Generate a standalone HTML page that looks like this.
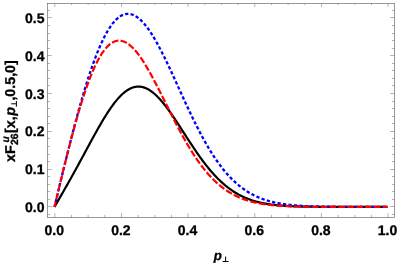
<!DOCTYPE html>
<html><head><meta charset="utf-8"><style>
html,body{margin:0;padding:0;background:#fff;}
svg{display:block;will-change:transform}
text{font-family:"Liberation Sans",sans-serif;font-weight:bold;font-size:14px;fill:#000;stroke:#000;stroke-width:0.3px;text-rendering:geometricPrecision}
</style></head><body>
<svg width="398" height="264" viewBox="0 0 398 264">
<rect width="398" height="264" fill="#fff"/>
<defs><clipPath id="c"><rect x="47.5" y="3.5" width="347.0" height="214.0"/></clipPath></defs>
<g clip-path="url(#c)" fill="none" stroke-linejoin="round">
<path d="M54.50,206.90 L55.33,205.46 L56.16,204.02 L57.00,202.58 L57.83,201.14 L58.66,199.70 L59.49,198.25 L60.33,196.81 L61.16,195.36 L61.99,193.91 L62.83,192.46 L63.66,191.00 L64.49,189.54 L65.32,188.08 L66.16,186.62 L66.99,185.15 L67.82,183.67 L68.65,182.19 L69.48,180.71 L70.32,179.23 L71.15,177.74 L71.98,176.24 L72.81,174.74 L73.65,173.24 L74.48,171.73 L75.31,170.22 L76.14,168.70 L76.98,167.19 L77.81,165.66 L78.64,164.14 L79.47,162.61 L80.31,161.07 L81.14,159.54 L81.97,158.00 L82.81,156.46 L83.64,154.92 L84.47,153.38 L85.30,151.83 L86.14,150.29 L86.97,148.75 L87.80,147.20 L88.63,145.66 L89.47,144.13 L90.30,142.59 L91.13,141.06 L91.96,139.53 L92.80,138.01 L93.63,136.49 L94.46,134.98 L95.29,133.48 L96.12,131.98 L96.96,130.50 L97.79,129.02 L98.62,127.55 L99.46,126.10 L100.29,124.66 L101.12,123.23 L101.95,121.81 L102.78,120.41 L103.62,119.03 L104.45,117.66 L105.28,116.31 L106.12,114.99 L106.95,113.68 L107.78,112.39 L108.61,111.12 L109.44,109.87 L110.28,108.65 L111.11,107.46 L111.94,106.29 L112.78,105.14 L113.61,104.02 L114.44,102.94 L115.27,101.87 L116.10,100.84 L116.94,99.84 L117.77,98.88 L118.60,97.94 L119.44,97.04 L120.27,96.17 L121.10,95.33 L121.93,94.53 L122.77,93.76 L123.60,93.03 L124.43,92.34 L125.26,91.69 L126.09,91.07 L126.93,90.49 L127.76,89.95 L128.59,89.45 L129.43,88.99 L130.26,88.57 L131.09,88.19 L131.92,87.85 L132.75,87.55 L133.59,87.29 L134.42,87.07 L135.25,86.89 L136.08,86.76 L136.92,86.66 L137.75,86.61 L138.58,86.59 L139.42,86.62 L140.25,86.69 L141.08,86.80 L141.91,86.95 L142.75,87.14 L143.58,87.37 L144.41,87.64 L145.24,87.95 L146.07,88.29 L146.91,88.68 L147.74,89.10 L148.57,89.56 L149.41,90.06 L150.24,90.59 L151.07,91.16 L151.90,91.76 L152.74,92.40 L153.57,93.07 L154.40,93.78 L155.23,94.51 L156.06,95.28 L156.90,96.08 L157.73,96.91 L158.56,97.76 L159.39,98.65 L160.23,99.56 L161.06,100.50 L161.89,101.46 L162.73,102.45 L163.56,103.47 L164.39,104.50 L165.22,105.56 L166.06,106.63 L166.89,107.73 L167.72,108.85 L168.55,109.98 L169.38,111.13 L170.22,112.30 L171.05,113.48 L171.88,114.68 L172.71,115.89 L173.55,117.11 L174.38,118.34 L175.21,119.58 L176.05,120.84 L176.88,122.10 L177.71,123.36 L178.54,124.64 L179.38,125.92 L180.21,127.20 L181.04,128.49 L181.87,129.78 L182.71,131.07 L183.54,132.36 L184.37,133.66 L185.20,134.95 L186.03,136.24 L186.87,137.53 L187.70,138.82 L188.53,140.10 L189.37,141.38 L190.20,142.65 L191.03,143.92 L191.86,145.18 L192.70,146.43 L193.53,147.68 L194.36,148.92 L195.19,150.14 L196.03,151.36 L196.86,152.57 L197.69,153.77 L198.52,154.96 L199.35,156.14 L200.19,157.30 L201.02,158.45 L201.85,159.59 L202.69,160.72 L203.52,161.83 L204.35,162.93 L205.18,164.01 L206.02,165.08 L206.85,166.14 L207.68,167.18 L208.51,168.20 L209.34,169.21 L210.18,170.21 L211.01,171.18 L211.84,172.15 L212.68,173.09 L213.51,174.02 L214.34,174.94 L215.17,175.83 L216.00,176.71 L216.84,177.58 L217.67,178.42 L218.50,179.26 L219.34,180.07 L220.17,180.87 L221.00,181.65 L221.83,182.42 L222.66,183.16 L223.50,183.90 L224.33,184.61 L225.16,185.31 L226.00,186.00 L226.83,186.67 L227.66,187.32 L228.49,187.95 L229.33,188.58 L230.16,189.18 L230.99,189.77 L231.82,190.35 L232.66,190.91 L233.49,191.46 L234.32,191.99 L235.15,192.50 L235.99,193.01 L236.82,193.50 L237.65,193.97 L238.48,194.44 L239.32,194.89 L240.15,195.32 L240.98,195.75 L241.81,196.16 L242.65,196.56 L243.48,196.94 L244.31,197.32 L245.14,197.68 L245.98,198.04 L246.81,198.38 L247.64,198.71 L248.47,199.03 L249.30,199.34 L250.14,199.64 L250.97,199.92 L251.80,200.20 L252.63,200.47 L253.47,200.74 L254.30,200.99 L255.13,201.23 L255.97,201.47 L256.80,201.69 L257.63,201.91 L258.46,202.12 L259.29,202.32 L260.13,202.52 L260.96,202.71 L261.79,202.89 L262.62,203.06 L263.46,203.23 L264.29,203.39 L265.12,203.55 L265.96,203.70 L266.79,203.84 L267.62,203.98 L268.45,204.11 L269.28,204.24 L270.12,204.36 L270.95,204.48 L271.78,204.59 L272.62,204.70 L273.45,204.80 L274.28,204.90 L275.11,205.00 L275.95,205.09 L276.78,205.17 L277.61,205.26 L278.44,205.34 L279.27,205.41 L280.11,205.49 L280.94,205.56 L281.77,205.62 L282.61,205.69 L283.44,205.75 L284.27,205.80 L285.10,205.86 L285.94,205.91 L286.77,205.96 L287.60,206.01 L288.43,206.06 L289.26,206.10 L290.10,206.14 L290.93,206.18 L291.76,206.22 L292.60,206.26 L293.43,206.29 L294.26,206.32 L295.09,206.35 L295.92,206.38 L296.76,206.41 L297.59,206.44 L298.42,206.46 L299.25,206.49 L300.09,206.51 L300.92,206.53 L301.75,206.55 L302.59,206.57 L303.42,206.59 L304.25,206.61 L305.08,206.62 L305.91,206.64 L306.75,206.65 L307.58,206.67 L308.41,206.68 L309.25,206.69 L310.08,206.71 L310.91,206.72 L311.74,206.73 L312.57,206.74 L313.41,206.75 L314.24,206.76 L315.07,206.77 L315.91,206.77 L316.74,206.78 L317.57,206.79 L318.40,206.80 L319.24,206.80 L320.07,206.81 L320.90,206.81 L321.73,206.82 L322.56,206.82 L323.40,206.83 L324.23,206.83 L325.06,206.84 L325.90,206.84 L326.73,206.84 L327.56,206.85 L328.39,206.85 L329.23,206.85 L330.06,206.86 L330.89,206.86 L331.72,206.86 L332.56,206.87 L333.39,206.87 L334.22,206.87 L335.05,206.87 L335.88,206.87 L336.72,206.88 L337.55,206.88 L338.38,206.88 L339.21,206.88 L340.05,206.88 L340.88,206.88 L341.71,206.88 L342.55,206.88 L343.38,206.89 L344.21,206.89 L345.04,206.89 L345.88,206.89 L346.71,206.89 L347.54,206.89 L348.37,206.89 L349.20,206.89 L350.04,206.89 L350.87,206.89 L351.70,206.89 L352.54,206.89 L353.37,206.89 L354.20,206.89 L355.03,206.89 L355.87,206.90 L356.70,206.90 L357.53,206.90 L358.36,206.90 L359.19,206.90 L360.03,206.90 L360.86,206.90 L361.69,206.90 L362.53,206.90 L363.36,206.90 L364.19,206.90 L365.02,206.90 L365.86,206.90 L366.69,206.90 L367.52,206.90 L368.35,206.90 L369.19,206.90 L370.02,206.90 L370.85,206.90 L371.68,206.90 L372.52,206.90 L373.35,206.90 L374.18,206.90 L375.01,206.90 L375.84,206.90 L376.68,206.90 L377.51,206.90 L378.34,206.90 L379.18,206.90 L380.01,206.90 L380.84,206.90 L381.67,206.90 L382.50,206.90 L383.34,206.90 L384.17,206.90 L385.00,206.90 L385.83,206.90 L386.67,206.90 L387.50,206.90" stroke="#000" stroke-width="2.2"/>
<path d="M54.50,206.90 L55.33,203.42 L56.16,199.94 L57.00,196.47 L57.83,193.00 L58.66,189.53 L59.49,186.07 L60.33,182.61 L61.16,179.16 L61.99,175.73 L62.83,172.30 L63.66,168.88 L64.49,165.48 L65.32,162.08 L66.16,158.71 L66.99,155.35 L67.82,152.00 L68.65,148.68 L69.48,145.37 L70.32,142.08 L71.15,138.81 L71.98,135.57 L72.81,132.35 L73.65,129.15 L74.48,125.98 L75.31,122.84 L76.14,119.72 L76.98,116.63 L77.81,113.57 L78.64,110.55 L79.47,107.55 L80.31,104.58 L81.14,101.65 L81.97,98.76 L82.81,95.90 L83.64,93.07 L84.47,90.29 L85.30,87.54 L86.14,84.83 L86.97,82.16 L87.80,79.53 L88.63,76.94 L89.47,74.40 L90.30,71.90 L91.13,69.45 L91.96,67.03 L92.80,64.67 L93.63,62.35 L94.46,60.08 L95.29,57.86 L96.12,55.69 L96.96,53.57 L97.79,51.49 L98.62,49.47 L99.46,47.50 L100.29,45.58 L101.12,43.72 L101.95,41.91 L102.78,40.15 L103.62,38.44 L104.45,36.79 L105.28,35.20 L106.12,33.66 L106.95,32.18 L107.78,30.75 L108.61,29.38 L109.44,28.07 L110.28,26.82 L111.11,25.62 L111.94,24.48 L112.78,23.40 L113.61,22.38 L114.44,21.41 L115.27,20.50 L116.10,19.66 L116.94,18.87 L117.77,18.14 L118.60,17.46 L119.44,16.85 L120.27,16.29 L121.10,15.79 L121.93,15.35 L122.77,14.97 L123.60,14.65 L124.43,14.38 L125.26,14.17 L126.09,14.01 L126.93,13.92 L127.76,13.88 L128.59,13.89 L129.43,13.96 L130.26,14.08 L131.09,14.26 L131.92,14.50 L132.75,14.78 L133.59,15.12 L134.42,15.51 L135.25,15.95 L136.08,16.44 L136.92,16.98 L137.75,17.58 L138.58,18.22 L139.42,18.90 L140.25,19.64 L141.08,20.42 L141.91,21.25 L142.75,22.12 L143.58,23.03 L144.41,23.99 L145.24,24.99 L146.07,26.03 L146.91,27.11 L147.74,28.23 L148.57,29.39 L149.41,30.58 L150.24,31.81 L151.07,33.08 L151.90,34.38 L152.74,35.71 L153.57,37.07 L154.40,38.47 L155.23,39.90 L156.06,41.35 L156.90,42.83 L157.73,44.34 L158.56,45.88 L159.39,47.44 L160.23,49.02 L161.06,50.63 L161.89,52.25 L162.73,53.90 L163.56,55.56 L164.39,57.25 L165.22,58.95 L166.06,60.66 L166.89,62.40 L167.72,64.14 L168.55,65.90 L169.38,67.67 L170.22,69.45 L171.05,71.24 L171.88,73.04 L172.71,74.84 L173.55,76.65 L174.38,78.47 L175.21,80.29 L176.05,82.12 L176.88,83.95 L177.71,85.78 L178.54,87.61 L179.38,89.44 L180.21,91.27 L181.04,93.10 L181.87,94.92 L182.71,96.74 L183.54,98.56 L184.37,100.37 L185.20,102.18 L186.03,103.98 L186.87,105.77 L187.70,107.55 L188.53,109.33 L189.37,111.09 L190.20,112.85 L191.03,114.59 L191.86,116.33 L192.70,118.05 L193.53,119.76 L194.36,121.45 L195.19,123.13 L196.03,124.80 L196.86,126.45 L197.69,128.09 L198.52,129.71 L199.35,131.32 L200.19,132.91 L201.02,134.48 L201.85,136.03 L202.69,137.57 L203.52,139.09 L204.35,140.59 L205.18,142.07 L206.02,143.54 L206.85,144.98 L207.68,146.41 L208.51,147.82 L209.34,149.20 L210.18,150.57 L211.01,151.92 L211.84,153.24 L212.68,154.55 L213.51,155.84 L214.34,157.10 L215.17,158.35 L216.00,159.57 L216.84,160.78 L217.67,161.96 L218.50,163.13 L219.34,164.27 L220.17,165.39 L221.00,166.49 L221.83,167.57 L222.66,168.64 L223.50,169.68 L224.33,170.70 L225.16,171.70 L226.00,172.68 L226.83,173.64 L227.66,174.58 L228.49,175.50 L229.33,176.40 L230.16,177.28 L230.99,178.15 L231.82,178.99 L232.66,179.82 L233.49,180.62 L234.32,181.41 L235.15,182.18 L235.99,182.94 L236.82,183.67 L237.65,184.39 L238.48,185.09 L239.32,185.77 L240.15,186.44 L240.98,187.09 L241.81,187.72 L242.65,188.34 L243.48,188.94 L244.31,189.52 L245.14,190.09 L245.98,190.65 L246.81,191.19 L247.64,191.71 L248.47,192.22 L249.30,192.72 L250.14,193.20 L250.97,193.67 L251.80,194.13 L252.63,194.57 L253.47,195.00 L254.30,195.42 L255.13,195.83 L255.97,196.22 L256.80,196.60 L257.63,196.97 L258.46,197.33 L259.29,197.68 L260.13,198.02 L260.96,198.34 L261.79,198.66 L262.62,198.97 L263.46,199.27 L264.29,199.55 L265.12,199.83 L265.96,200.10 L266.79,200.36 L267.62,200.61 L268.45,200.86 L269.28,201.09 L270.12,201.32 L270.95,201.54 L271.78,201.75 L272.62,201.95 L273.45,202.15 L274.28,202.34 L275.11,202.53 L275.95,202.70 L276.78,202.87 L277.61,203.04 L278.44,203.20 L279.27,203.35 L280.11,203.50 L280.94,203.64 L281.77,203.78 L282.61,203.91 L283.44,204.04 L284.27,204.16 L285.10,204.28 L285.94,204.39 L286.77,204.50 L287.60,204.60 L288.43,204.70 L289.26,204.80 L290.10,204.89 L290.93,204.98 L291.76,205.07 L292.60,205.15 L293.43,205.23 L294.26,205.30 L295.09,205.37 L295.92,205.44 L296.76,205.51 L297.59,205.57 L298.42,205.64 L299.25,205.69 L300.09,205.75 L300.92,205.80 L301.75,205.86 L302.59,205.90 L303.42,205.95 L304.25,206.00 L305.08,206.04 L305.91,206.08 L306.75,206.12 L307.58,206.16 L308.41,206.19 L309.25,206.23 L310.08,206.26 L310.91,206.29 L311.74,206.32 L312.57,206.35 L313.41,206.38 L314.24,206.40 L315.07,206.43 L315.91,206.45 L316.74,206.48 L317.57,206.50 L318.40,206.52 L319.24,206.54 L320.07,206.56 L320.90,206.57 L321.73,206.59 L322.56,206.61 L323.40,206.62 L324.23,206.64 L325.06,206.65 L325.90,206.66 L326.73,206.68 L327.56,206.69 L328.39,206.70 L329.23,206.71 L330.06,206.72 L330.89,206.73 L331.72,206.74 L332.56,206.75 L333.39,206.76 L334.22,206.76 L335.05,206.77 L335.88,206.78 L336.72,206.79 L337.55,206.79 L338.38,206.80 L339.21,206.80 L340.05,206.81 L340.88,206.81 L341.71,206.82 L342.55,206.82 L343.38,206.83 L344.21,206.83 L345.04,206.84 L345.88,206.84 L346.71,206.84 L347.54,206.85 L348.37,206.85 L349.20,206.85 L350.04,206.86 L350.87,206.86 L351.70,206.86 L352.54,206.86 L353.37,206.86 L354.20,206.87 L355.03,206.87 L355.87,206.87 L356.70,206.87 L357.53,206.87 L358.36,206.88 L359.19,206.88 L360.03,206.88 L360.86,206.88 L361.69,206.88 L362.53,206.88 L363.36,206.88 L364.19,206.88 L365.02,206.89 L365.86,206.89 L366.69,206.89 L367.52,206.89 L368.35,206.89 L369.19,206.89 L370.02,206.89 L370.85,206.89 L371.68,206.89 L372.52,206.89 L373.35,206.89 L374.18,206.89 L375.01,206.89 L375.84,206.89 L376.68,206.89 L377.51,206.89 L378.34,206.89 L379.18,206.90 L380.01,206.90 L380.84,206.90 L381.67,206.90 L382.50,206.90 L383.34,206.90 L384.17,206.90 L385.00,206.90 L385.83,206.90 L386.67,206.90 L387.50,206.90" stroke="#0000ff" stroke-width="2.3" stroke-dasharray="3.3 2.2206" stroke-dashoffset="0.75"/>
<path d="M54.50,206.90 L55.33,203.40 L56.16,199.91 L57.00,196.41 L57.83,192.93 L58.66,189.44 L59.49,185.97 L60.33,182.51 L61.16,179.06 L61.99,175.62 L62.83,172.20 L63.66,168.79 L64.49,165.40 L65.32,162.03 L66.16,158.68 L66.99,155.36 L67.82,152.06 L68.65,148.78 L69.48,145.54 L70.32,142.32 L71.15,139.13 L71.98,135.98 L72.81,132.85 L73.65,129.76 L74.48,126.71 L75.31,123.70 L76.14,120.72 L76.98,117.78 L77.81,114.89 L78.64,112.04 L79.47,109.23 L80.31,106.47 L81.14,103.75 L81.97,101.08 L82.81,98.45 L83.64,95.88 L84.47,93.36 L85.30,90.89 L86.14,88.47 L86.97,86.10 L87.80,83.79 L88.63,81.54 L89.47,79.33 L90.30,77.19 L91.13,75.10 L91.96,73.07 L92.80,71.10 L93.63,69.19 L94.46,67.34 L95.29,65.55 L96.12,63.81 L96.96,62.14 L97.79,60.53 L98.62,58.99 L99.46,57.50 L100.29,56.08 L101.12,54.72 L101.95,53.42 L102.78,52.19 L103.62,51.02 L104.45,49.91 L105.28,48.87 L106.12,47.89 L106.95,46.97 L107.78,46.12 L108.61,45.33 L109.44,44.60 L110.28,43.93 L111.11,43.33 L111.94,42.78 L112.78,42.30 L113.61,41.89 L114.44,41.53 L115.27,41.23 L116.10,40.99 L116.94,40.82 L117.77,40.70 L118.60,40.64 L119.44,40.63 L120.27,40.69 L121.10,40.80 L121.93,40.97 L122.77,41.19 L123.60,41.46 L124.43,41.79 L125.26,42.18 L126.09,42.61 L126.93,43.10 L127.76,43.63 L128.59,44.22 L129.43,44.85 L130.26,45.53 L131.09,46.25 L131.92,47.02 L132.75,47.84 L133.59,48.70 L134.42,49.60 L135.25,50.54 L136.08,51.52 L136.92,52.54 L137.75,53.60 L138.58,54.70 L139.42,55.83 L140.25,56.99 L141.08,58.19 L141.91,59.42 L142.75,60.68 L143.58,61.97 L144.41,63.29 L145.24,64.64 L146.07,66.01 L146.91,67.41 L147.74,68.83 L148.57,70.28 L149.41,71.75 L150.24,73.23 L151.07,74.74 L151.90,76.27 L152.74,77.81 L153.57,79.37 L154.40,80.94 L155.23,82.52 L156.06,84.12 L156.90,85.73 L157.73,87.35 L158.56,88.99 L159.39,90.62 L160.23,92.27 L161.06,93.92 L161.89,95.58 L162.73,97.24 L163.56,98.90 L164.39,100.57 L165.22,102.24 L166.06,103.91 L166.89,105.57 L167.72,107.24 L168.55,108.91 L169.38,110.57 L170.22,112.22 L171.05,113.88 L171.88,115.52 L172.71,117.16 L173.55,118.80 L174.38,120.42 L175.21,122.04 L176.05,123.65 L176.88,125.24 L177.71,126.83 L178.54,128.41 L179.38,129.97 L180.21,131.52 L181.04,133.06 L181.87,134.59 L182.71,136.10 L183.54,137.60 L184.37,139.08 L185.20,140.55 L186.03,142.00 L186.87,143.44 L187.70,144.86 L188.53,146.26 L189.37,147.65 L190.20,149.02 L191.03,150.37 L191.86,151.70 L192.70,153.02 L193.53,154.32 L194.36,155.59 L195.19,156.85 L196.03,158.09 L196.86,159.32 L197.69,160.52 L198.52,161.70 L199.35,162.87 L200.19,164.01 L201.02,165.14 L201.85,166.24 L202.69,167.33 L203.52,168.39 L204.35,169.44 L205.18,170.47 L206.02,171.48 L206.85,172.47 L207.68,173.43 L208.51,174.38 L209.34,175.31 L210.18,176.23 L211.01,177.12 L211.84,177.99 L212.68,178.85 L213.51,179.68 L214.34,180.50 L215.17,181.30 L216.00,182.08 L216.84,182.84 L217.67,183.59 L218.50,184.32 L219.34,185.03 L220.17,185.72 L221.00,186.40 L221.83,187.06 L222.66,187.70 L223.50,188.33 L224.33,188.94 L225.16,189.53 L226.00,190.11 L226.83,190.67 L227.66,191.22 L228.49,191.76 L229.33,192.28 L230.16,192.78 L230.99,193.27 L231.82,193.75 L232.66,194.21 L233.49,194.66 L234.32,195.10 L235.15,195.52 L235.99,195.93 L236.82,196.33 L237.65,196.72 L238.48,197.09 L239.32,197.46 L240.15,197.81 L240.98,198.15 L241.81,198.48 L242.65,198.80 L243.48,199.11 L244.31,199.41 L245.14,199.70 L245.98,199.98 L246.81,200.25 L247.64,200.52 L248.47,200.77 L249.30,201.01 L250.14,201.25 L250.97,201.48 L251.80,201.70 L252.63,201.91 L253.47,202.11 L254.30,202.31 L255.13,202.50 L255.97,202.69 L256.80,202.86 L257.63,203.03 L258.46,203.20 L259.29,203.35 L260.13,203.51 L260.96,203.65 L261.79,203.79 L262.62,203.93 L263.46,204.06 L264.29,204.18 L265.12,204.30 L265.96,204.42 L266.79,204.53 L267.62,204.64 L268.45,204.74 L269.28,204.84 L270.12,204.93 L270.95,205.02 L271.78,205.11 L272.62,205.19 L273.45,205.27 L274.28,205.35 L275.11,205.42 L275.95,205.49 L276.78,205.56 L277.61,205.62 L278.44,205.68 L279.27,205.74 L280.11,205.80 L280.94,205.85 L281.77,205.90 L282.61,205.95 L283.44,206.00 L284.27,206.04 L285.10,206.09 L285.94,206.13 L286.77,206.17 L287.60,206.20 L288.43,206.24 L289.26,206.27 L290.10,206.30 L290.93,206.33 L291.76,206.36 L292.60,206.39 L293.43,206.42 L294.26,206.44 L295.09,206.47 L295.92,206.49 L296.76,206.51 L297.59,206.53 L298.42,206.55 L299.25,206.57 L300.09,206.59 L300.92,206.61 L301.75,206.62 L302.59,206.64 L303.42,206.65 L304.25,206.66 L305.08,206.68 L305.91,206.69 L306.75,206.70 L307.58,206.71 L308.41,206.72 L309.25,206.73 L310.08,206.74 L310.91,206.75 L311.74,206.76 L312.57,206.77 L313.41,206.78 L314.24,206.78 L315.07,206.79 L315.91,206.80 L316.74,206.80 L317.57,206.81 L318.40,206.81 L319.24,206.82 L320.07,206.82 L320.90,206.83 L321.73,206.83 L322.56,206.84 L323.40,206.84 L324.23,206.84 L325.06,206.85 L325.90,206.85 L326.73,206.85 L327.56,206.86 L328.39,206.86 L329.23,206.86 L330.06,206.86 L330.89,206.87 L331.72,206.87 L332.56,206.87 L333.39,206.87 L334.22,206.87 L335.05,206.88 L335.88,206.88 L336.72,206.88 L337.55,206.88 L338.38,206.88 L339.21,206.88 L340.05,206.88 L340.88,206.88 L341.71,206.89 L342.55,206.89 L343.38,206.89 L344.21,206.89 L345.04,206.89 L345.88,206.89 L346.71,206.89 L347.54,206.89 L348.37,206.89 L349.20,206.89 L350.04,206.89 L350.87,206.89 L351.70,206.89 L352.54,206.89 L353.37,206.89 L354.20,206.89 L355.03,206.90 L355.87,206.90 L356.70,206.90 L357.53,206.90 L358.36,206.90 L359.19,206.90 L360.03,206.90 L360.86,206.90 L361.69,206.90 L362.53,206.90 L363.36,206.90 L364.19,206.90 L365.02,206.90 L365.86,206.90 L366.69,206.90 L367.52,206.90 L368.35,206.90 L369.19,206.90 L370.02,206.90 L370.85,206.90 L371.68,206.90 L372.52,206.90 L373.35,206.90 L374.18,206.90 L375.01,206.90 L375.84,206.90 L376.68,206.90 L377.51,206.90 L378.34,206.90 L379.18,206.90 L380.01,206.90 L380.84,206.90 L381.67,206.90 L382.50,206.90 L383.34,206.90 L384.17,206.90 L385.00,206.90 L385.83,206.90 L386.67,206.90 L387.50,206.90" stroke="#ff0000" stroke-width="2.2" stroke-dasharray="6.662 2.2" stroke-dashoffset="1.19"/>
</g>
<rect x="47.5" y="3.5" width="347.0" height="214.0" fill="none" stroke="#666" stroke-width="0.66"/>
<path d="M54.80,217.5 v-4.4 M54.80,3.5 v3.4000000000000004 M71.47,217.5 v-2.6 M71.47,3.5 v1.6 M88.13,217.5 v-2.6 M88.13,3.5 v1.6 M104.80,217.5 v-2.6 M104.80,3.5 v1.6 M121.46,217.5 v-4.4 M121.46,3.5 v3.4000000000000004 M138.12,217.5 v-2.6 M138.12,3.5 v1.6 M154.79,217.5 v-2.6 M154.79,3.5 v1.6 M171.46,217.5 v-2.6 M171.46,3.5 v1.6 M188.12,217.5 v-4.4 M188.12,3.5 v3.4000000000000004 M204.79,217.5 v-2.6 M204.79,3.5 v1.6 M221.45,217.5 v-2.6 M221.45,3.5 v1.6 M238.12,217.5 v-2.6 M238.12,3.5 v1.6 M254.78,217.5 v-4.4 M254.78,3.5 v3.4000000000000004 M271.44,217.5 v-2.6 M271.44,3.5 v1.6 M288.11,217.5 v-2.6 M288.11,3.5 v1.6 M304.78,217.5 v-2.6 M304.78,3.5 v1.6 M321.44,217.5 v-4.4 M321.44,3.5 v3.4000000000000004 M338.11,217.5 v-2.6 M338.11,3.5 v1.6 M354.77,217.5 v-2.6 M354.77,3.5 v1.6 M371.44,217.5 v-2.6 M371.44,3.5 v1.6 M388.10,217.5 v-4.4 M388.10,3.5 v3.4000000000000004 M47.5,214.50 h2.6 M394.5,214.50 h-2.6 M47.5,206.50 h4.4 M394.5,206.50 h-4.4 M47.5,199.50 h2.6 M394.5,199.50 h-2.6 M47.5,191.50 h2.6 M394.5,191.50 h-2.6 M47.5,184.50 h2.6 M394.5,184.50 h-2.6 M47.5,176.50 h2.6 M394.5,176.50 h-2.6 M47.5,169.50 h4.4 M394.5,169.50 h-4.4 M47.5,161.50 h2.6 M394.5,161.50 h-2.6 M47.5,154.50 h2.6 M394.5,154.50 h-2.6 M47.5,146.50 h2.6 M394.5,146.50 h-2.6 M47.5,138.50 h2.6 M394.5,138.50 h-2.6 M47.5,131.50 h4.4 M394.5,131.50 h-4.4 M47.5,123.50 h2.6 M394.5,123.50 h-2.6 M47.5,116.50 h2.6 M394.5,116.50 h-2.6 M47.5,108.50 h2.6 M394.5,108.50 h-2.6 M47.5,101.50 h2.6 M394.5,101.50 h-2.6 M47.5,93.50 h4.4 M394.5,93.50 h-4.4 M47.5,85.50 h2.6 M394.5,85.50 h-2.6 M47.5,78.50 h2.6 M394.5,78.50 h-2.6 M47.5,70.50 h2.6 M394.5,70.50 h-2.6 M47.5,63.50 h2.6 M394.5,63.50 h-2.6 M47.5,55.50 h4.4 M394.5,55.50 h-4.4 M47.5,48.50 h2.6 M394.5,48.50 h-2.6 M47.5,40.50 h2.6 M394.5,40.50 h-2.6 M47.5,33.50 h2.6 M394.5,33.50 h-2.6 M47.5,25.50 h2.6 M394.5,25.50 h-2.6 M47.5,17.50 h4.4 M394.5,17.50 h-4.4 M47.5,10.50 h2.6 M394.5,10.50 h-2.6" stroke="#666" stroke-width="0.9" stroke-opacity="0.55" fill="none"/>
<text x="54.25" y="235.0" text-anchor="middle">0.0</text><text x="120.91" y="235.0" text-anchor="middle">0.2</text><text x="187.57" y="235.0" text-anchor="middle">0.4</text><text x="254.23" y="235.0" text-anchor="middle">0.6</text><text x="320.89" y="235.0" text-anchor="middle">0.8</text><text x="387.55" y="235.0" text-anchor="middle">1.0</text>
<text x="44.5" y="212.05" text-anchor="end">0.0</text><text x="44.5" y="174.25" text-anchor="end">0.1</text><text x="44.5" y="136.45" text-anchor="end">0.2</text><text x="44.5" y="98.65" text-anchor="end">0.3</text><text x="44.5" y="60.85" text-anchor="end">0.4</text><text x="44.5" y="23.05" text-anchor="end">0.5</text>
<text x="213.8" y="259.5" font-style="italic" style="font-size:13.3px">p</text>
<path d="M222.6,261.5 H228.6 M225.6,261.5 V256.6" stroke="#000" stroke-width="1" fill="none"/>
<path d="M16.4,101 V106.7 M16.4,103.8 H11.2" stroke="#000" stroke-width="1" fill="none"/>
<g transform="translate(14.6,162.0) rotate(-90) scale(1.018)">
<text x="0" y="0">xF</text>
<text x="16.6" y="3.6" style="font-size:10.2px">26</text>
<text x="19.2" y="-5.8" style="font-size:10px;font-style:italic">u</text>
<text x="28.6" y="0">[x,</text>
<text x="45.5" y="0" font-style="italic">p</text>
<text x="60.3" y="0">,0.5,0]</text>
</g>
</svg>
</body></html>
